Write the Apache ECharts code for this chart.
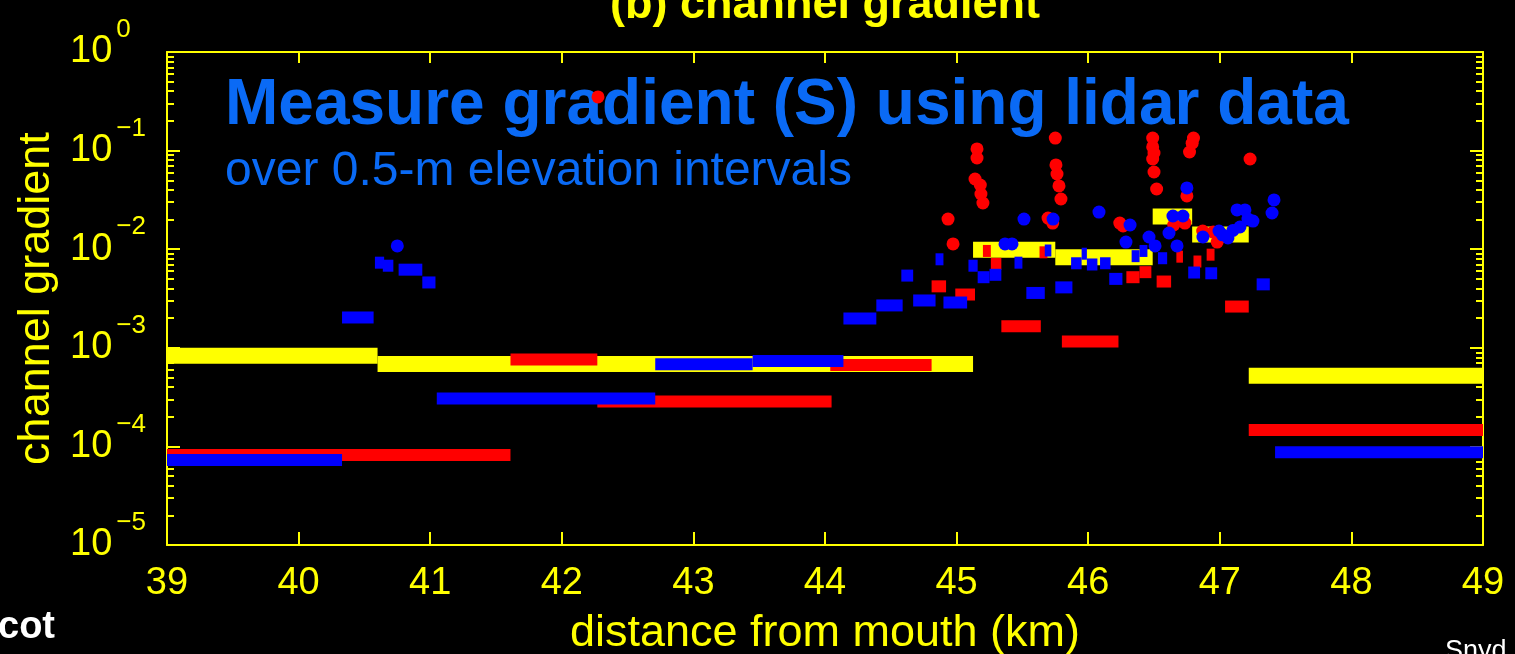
<!DOCTYPE html>
<html>
<head>
<meta charset="utf-8">
<script src="https://cdn.jsdelivr.net/npm/echarts@6/dist/echarts.min.js"></script>
<style>
html,body{margin:0;padding:0;background:#000;}
#chart{width:1515px;height:654px;}
</style>
</head>
<body>
<div id="chart"></div>
<script>
// ---- data (distance km start, end, gradient S) ----
const xTicks = [39, 40, 41, 42, 43, 44, 45, 46, 47, 48, 49];
const yMajor = [1e-5, 1e-4, 1e-3, 1e-2, 1e-1, 1];
const yMinor = [2e-5,3e-5,4e-5,5e-5,6e-5,7e-5,8e-5,9e-5,
                2e-4,3e-4,4e-4,5e-4,6e-4,7e-4,8e-4,9e-4,
                2e-3,3e-3,4e-3,5e-3,6e-3,7e-3,8e-3,9e-3,
                2e-2,3e-2,4e-2,5e-2,6e-2,7e-2,8e-2,9e-2,
                0.2,0.3,0.4,0.5,0.6,0.7,0.8,0.9];

const yellowSegs = [
  [39.00, 40.60, 8.3e-4],
  [40.60, 45.125, 6.85e-4],
  [45.125, 45.75, 9.9e-3],
  [45.75, 46.49, 8.3e-3],
  [46.49, 46.79, 2.15e-2],
  [46.79, 47.22, 1.41e-2],
  [47.22, 49.00, 5.2e-4]
];

const redSegs = [
  [39.00, 41.61, 8.2e-5],
  [41.61, 42.27, 7.6e-4],
  [42.27, 44.05, 2.85e-4],
  [44.04, 44.81, 6.7e-4],
  [44.81, 44.92, 4.2e-3],
  [44.99, 45.14, 3.47e-3],
  [45.20, 45.26, 9.6e-3],
  [45.26, 45.34, 7.1e-3],
  [45.34, 45.64, 1.65e-3],
  [45.63, 45.69, 9.3e-3],
  [45.80, 46.23, 1.16e-3],
  [46.29, 46.39, 5.2e-3],
  [46.39, 46.48, 5.85e-3],
  [46.52, 46.63, 4.7e-3],
  [46.67, 46.72, 8.4e-3],
  [46.80, 46.86, 7.5e-3],
  [46.90, 46.96, 8.8e-3],
  [47.04, 47.22, 2.62e-3],
  [47.22, 49.00, 1.47e-4]
];

const blueSegs = [
  [39.00, 40.33, 7.3e-5],
  [40.33, 40.57, 2.03e-3],
  [40.58, 40.65, 7.3e-3],
  [40.64, 40.72, 6.8e-3],
  [40.76, 40.94, 6.2e-3],
  [40.94, 41.04, 4.6e-3],
  [41.05, 42.71, 3.06e-4],
  [42.71, 43.45, 6.8e-4],
  [43.45, 44.14, 7.35e-4],
  [44.14, 44.39, 1.98e-3],
  [44.39, 44.59, 2.69e-3],
  [44.58, 44.67, 5.4e-3],
  [44.67, 44.84, 3.02e-3],
  [44.84, 44.90, 7.9e-3],
  [44.90, 45.08, 2.88e-3],
  [45.09, 45.16, 6.8e-3],
  [45.16, 45.25, 5.2e-3],
  [45.25, 45.34, 5.5e-3],
  [45.44, 45.50, 7.3e-3],
  [45.53, 45.67, 3.6e-3],
  [45.67, 45.72, 9.7e-3],
  [45.75, 45.88, 4.1e-3],
  [45.87, 45.95, 7.2e-3],
  [45.95, 45.99, 9.0e-3],
  [45.99, 46.07, 7.0e-3],
  [46.09, 46.17, 7.2e-3],
  [46.16, 46.26, 5.0e-3],
  [46.33, 46.39, 8.5e-3],
  [46.39, 46.45, 9.6e-3],
  [46.53, 46.60, 8.1e-3],
  [46.76, 46.85, 5.8e-3],
  [46.89, 46.98, 5.7e-3],
  [47.28, 47.38, 4.4e-3],
  [47.42, 49.00, 8.7e-5]
];

const redDots = [
  [42.275, 0.35],
  [44.935, 0.0202], [44.973, 0.0113],
  [45.155, 0.104], [45.155, 0.0841], [45.14, 0.0515], [45.18, 0.0448],
  [45.185, 0.0363], [45.20, 0.0294],
  [45.75, 0.134], [45.755, 0.0715], [45.763, 0.0579], [45.778, 0.0438],
  [45.793, 0.0323], [45.695, 0.0207], [45.73, 0.0184],
  [46.24, 0.0184], [46.265, 0.0172],
  [46.49, 0.134], [46.49, 0.109], [46.50, 0.0946], [46.49, 0.0822],
  [46.50, 0.0607], [46.52, 0.0408],
  [46.80, 0.134], [46.79, 0.119], [46.77, 0.0968],
  [47.23, 0.0822], [46.75, 0.0347],
  [46.65, 0.0176], [46.735, 0.0184], [46.87, 0.0153], [46.98, 0.0118], [46.95, 0.0149]
];

const blueDots = [
  [40.75, 0.0108],
  [45.368, 0.0113], [45.421, 0.0113], [45.512, 0.0202], [45.733, 0.0202],
  [46.082, 0.0238], [46.318, 0.0176], [46.287, 0.0118], [46.462, 0.0133],
  [46.508, 0.0108], [46.614, 0.0146], [46.675, 0.0108], [46.75, 0.0418],
  [46.644, 0.0217], [46.72, 0.0217], [46.872, 0.0133], [46.994, 0.0153],
  [47.062, 0.0130], [47.131, 0.0250], [47.191, 0.0250], [47.153, 0.0168],
  [47.214, 0.0202], [47.252, 0.0193], [47.412, 0.0316], [47.397, 0.0233],
  [47.02, 0.0140], [47.10, 0.0155]
];

// ---- chart ----
const YEL = '#ffff00', RED = '#ff0000', BLU = '#0000ff', TXTBLUE = '#0a6af5';
const FONT = '"Liberation Sans", Arial, sans-serif';

function segSeries(name, data, color, thick, z) {
  return {
    name: name, type: 'custom', xAxisIndex: 0, yAxisIndex: 0, z: z,
    clip: true,
    data: data,
    encode: { x: [0, 1], y: 2 },
    renderItem: function (params, api) {
      const p0 = api.coord([api.value(0), api.value(2)]);
      const p1 = api.coord([api.value(1), api.value(2)]);
      return {
        type: 'rect',
        shape: { x: p0[0], y: p0[1] - thick / 2, width: p1[0] - p0[0], height: thick },
        style: { fill: color }
      };
    }
  };
}

function expLabel(v) {
  const e = Math.round(Math.log10(v));
  return '{b|10}{s|' + (e === 0 ? '0' : '\u2212' + (-e)) + '}';
}

const commonY = { type: 'log', logBase: 10, min: 1e-5, max: 1, splitLine: { show: false } };

const chart = echarts.init(document.getElementById('chart'), null, { renderer: 'canvas' });
chart.setOption({
  backgroundColor: '#000',
  animation: false,
  grid: { left: 167, right: 32, top: 52, bottom: 109, containLabel: false, outerBoundsMode: 'none' },
  xAxis: [
    {
      type: 'value', min: 39, max: 49, interval: 1, position: 'bottom',
      axisLine: { lineStyle: { color: YEL, width: 2 } },
      axisTick: { inside: true, length: 13, lineStyle: { color: YEL, width: 2 } },
      axisLabel: { color: YEL, fontSize: 38, fontFamily: FONT, margin: 20,
        customValues: xTicks },
      splitLine: { show: false },
      name: 'distance from mouth (km)', nameLocation: 'middle', nameGap: 66,
      nameTextStyle: { color: YEL, fontSize: 45, fontFamily: FONT }
    },
    {
      type: 'value', min: 39, max: 49, interval: 1, position: 'top',
      axisLine: { lineStyle: { color: YEL, width: 2 } },
      axisTick: { inside: true, length: 11, lineStyle: { color: YEL, width: 2 } },
      axisLabel: { show: false }, splitLine: { show: false }
    }
  ],
  yAxis: [
    Object.assign({}, commonY, {
      position: 'left',
      axisLine: { lineStyle: { color: YEL, width: 2 } },
      axisTick: { inside: true, length: 13, customValues: yMajor, lineStyle: { color: YEL, width: 2 } },
      axisLabel: {
        customValues: yMajor, align: 'left', margin: 97, formatter: expLabel,
        rich: {
          b: { color: YEL, fontSize: 38, fontFamily: FONT },
          s: { color: YEL, fontSize: 26, fontFamily: FONT, padding: [0, 0, 44, 4] }
        }
      },
      name: 'channel gradient', nameLocation: 'middle', nameGap: 108, nameRotate: 90,
      nameTextStyle: { color: YEL, fontSize: 45, fontFamily: FONT }
    }),
    Object.assign({}, commonY, {
      position: 'left',
      axisLine: { show: false },
      axisTick: { inside: true, length: 7, customValues: yMinor, lineStyle: { color: YEL, width: 2 } },
      axisLabel: { show: false }
    }),
    Object.assign({}, commonY, {
      position: 'right',
      axisLine: { lineStyle: { color: YEL, width: 2 } },
      axisTick: { inside: true, length: 13, customValues: yMajor, lineStyle: { color: YEL, width: 2 } },
      axisLabel: { show: false }
    }),
    Object.assign({}, commonY, {
      position: 'right',
      axisLine: { show: false },
      axisTick: { inside: true, length: 7, customValues: yMinor, lineStyle: { color: YEL, width: 2 } },
      axisLabel: { show: false }
    })
  ],
  series: [
    segSeries('yellow', yellowSegs, YEL, 16, 2),
    segSeries('red', redSegs, RED, 12, 3),
    {
      name: 'redDots', type: 'scatter', data: redDots, symbol: 'circle', symbolSize: 13,
      itemStyle: { color: RED, opacity: 1 }, z: 4, xAxisIndex: 0, yAxisIndex: 0
    },
    segSeries('blue', blueSegs, BLU, 12, 5),
    {
      name: 'blueDots', type: 'scatter', data: blueDots, symbol: 'circle', symbolSize: 13,
      itemStyle: { color: BLU, opacity: 1 }, z: 6, xAxisIndex: 0, yAxisIndex: 0
    }
  ],
  graphic: [
    { type: 'text', x: 825, y: 6, z: 10,
      style: { text: '(b) channel gradient', font: 'bold 45px ' + FONT, fill: YEL, align: 'center', verticalAlign: 'middle' } },
    { type: 'text', x: 225, y: 106, z: 1,
      style: { text: 'Measure gradient (S) using lidar data', font: 'bold 64px ' + FONT, fill: TXTBLUE, align: 'left', verticalAlign: 'middle' } },
    { type: 'text', x: 225, y: 172, z: 1,
      style: { text: 'over 0.5-m elevation intervals', font: '48px ' + FONT, fill: TXTBLUE, align: 'left', verticalAlign: 'middle' } },
    { type: 'text', x: 55, y: 628, z: 10,
      style: { text: 'cot', font: 'bold 38px ' + FONT, fill: '#ffffff', align: 'right', verticalAlign: 'middle' } },
    { type: 'text', x: 1445, y: 652, z: 10,
      style: { text: 'Snyd', font: '27px ' + FONT, fill: '#ffffff', align: 'left', verticalAlign: 'middle' } }
  ]
});
</script>
</body>
</html>
